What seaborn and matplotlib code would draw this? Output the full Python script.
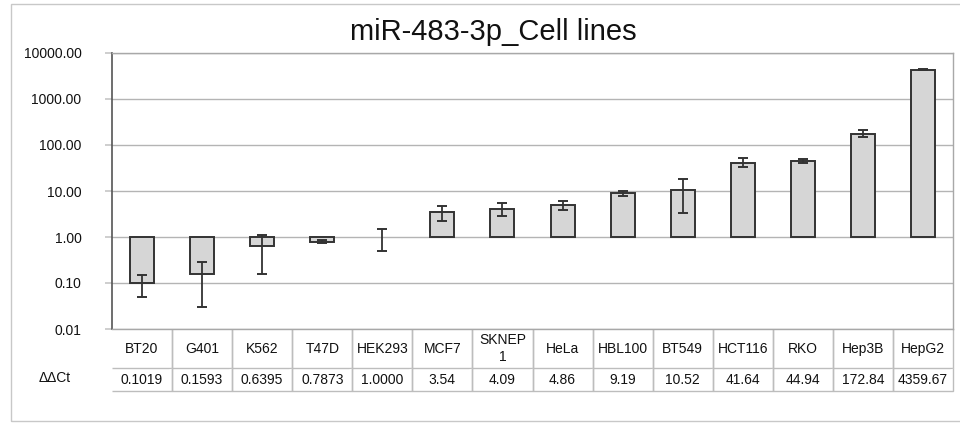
import matplotlib
matplotlib.use("Agg")
import matplotlib.pyplot as plt
import seaborn as sns
import numpy as np
from matplotlib.patches import Rectangle

cell_lines = ["BT20", "G401", "K562", "T47D", "HEK293", "MCF7", "SKNEP\n1", "HeLa",
              "HBL100", "BT549", "HCT116", "RKO", "Hep3B", "HepG2"]
ddct = [0.1019, 0.1593, 0.6395, 0.7873, 1.0000, 3.54, 4.09, 4.86,
        9.19, 10.52, 41.64, 44.94, 172.84, 4359.67]
ddct_labels = ["0.1019", "0.1593", "0.6395", "0.7873", "1.0000", "3.54", "4.09", "4.86",
               "9.19", "10.52", "41.64", "44.94", "172.84", "4359.67"]
err_top = [0.149, 0.29, 1.1, 0.86, 1.49, 4.8, 5.4, 5.97, 10.2, 18.0, 51.0, 49.0, 209.0, 4500.0]
err_bottom = [0.05, 0.03, 0.16, 0.73, 0.50, 2.2, 2.9, 3.86, 7.8, 3.3, 33.6, 41.0, 147.0, 4220.0]
y_ticks = [0.01, 0.1, 1, 10, 100, 1000, 10000]
title = "miR-483-3p_Cell lines"
row_label = "ΔΔCt"

sns.set_theme(style="white")
plt.rcParams["font.family"] = ["Liberation Sans", "DejaVu Sans"]

W, H = 960, 423
fig = plt.figure(figsize=(W / 100, H / 100), dpi=100)
fig.patch.set_facecolor("white")
fig.patches.append(Rectangle((11 / W, 1 - 421 / H), 960 / W, 417 / H, transform=fig.transFigure,
                             fill=False, edgecolor="#c8c8c8", linewidth=1))

ax_l, ax_r, ax_t, ax_b = 112, 953, 53, 329
ax = fig.add_axes([ax_l / W, 1 - ax_b / H, (ax_r - ax_l) / W, (ax_b - ax_t) / H])

heights = [v - 1 for v in ddct]
sns.barplot(x=list(range(len(cell_lines))), y=heights, bottom=1, ax=ax, width=0.4,
            color="#d6d6d6", saturation=1, edgecolor="#333333", linewidth=1.4, zorder=3,
            native_scale=True)
for p in ax.patches:
    if p.get_height() == 0:
        p.set_visible(False)

lower = [v - b for v, b in zip(ddct, err_bottom)]
upper = [t - v for v, t in zip(ddct, err_top)]
ax.errorbar(range(len(ddct)), ddct, yerr=[lower, upper], fmt="none", ecolor="#333333",
            elinewidth=1.3, capsize=3.8, capthick=1.4, zorder=4)

ax.set_yscale("log")
ax.set_ylim(0.01, 10000)
ax.set_xlim(-0.5, len(cell_lines) - 0.5)
ax.set_yticks(y_ticks)
ax.set_yticklabels([f"{t:.2f}" for t in y_ticks], fontsize=10)
ax.yaxis.set_minor_locator(matplotlib.ticker.NullLocator())
ax.tick_params(axis="y", left=True, length=5, color="#c8c8c8", pad=17, labelcolor="#111111")
ax.tick_params(axis="x", length=0, labelbottom=False)
ax.set_xlabel("")
ax.set_ylabel("")
ax.yaxis.grid(True, color="#b4b4b4", linewidth=1, zorder=0)
ax.xaxis.grid(False)
ax.set_axisbelow(True)
for s in ["top", "right", "bottom"]:
    ax.spines[s].set_color("#a8a8a8")
    ax.spines[s].set_linewidth(1)
ax.spines["left"].set_color("#555555")
ax.spines["left"].set_linewidth(1.2)

fig.text(493 / W, 1 - 32 / H, title, ha="center", va="center", fontsize=21, color="#111111")

# table below the plot
tab_h1, tab_h2 = 39, 23
ax_h = ax_b - ax_t
tbl = ax.table(cellText=[cell_lines, ddct_labels], cellLoc="center",
               bbox=[0, -(tab_h1 + tab_h2) / ax_h, 1, (tab_h1 + tab_h2) / ax_h])
tbl.auto_set_font_size(False)
for (r, c), cell in tbl.get_celld().items():
    cell.set_height(tab_h1 if r == 0 else tab_h2)
    cell.set_edgecolor("#bdbdbd")
    cell.set_linewidth(1)
    cell.get_text().set_fontsize(10)
    cell.get_text().set_color("#111111")
    if c == 0:
        cell.visible_edges = "BR"
    else:
        cell.visible_edges = "BRL"
fig.text(55 / W, 1 - 378 / H, row_label, ha="center", va="center", fontsize=10, color="#111111")

fig.savefig("out.png", dpi=100)
